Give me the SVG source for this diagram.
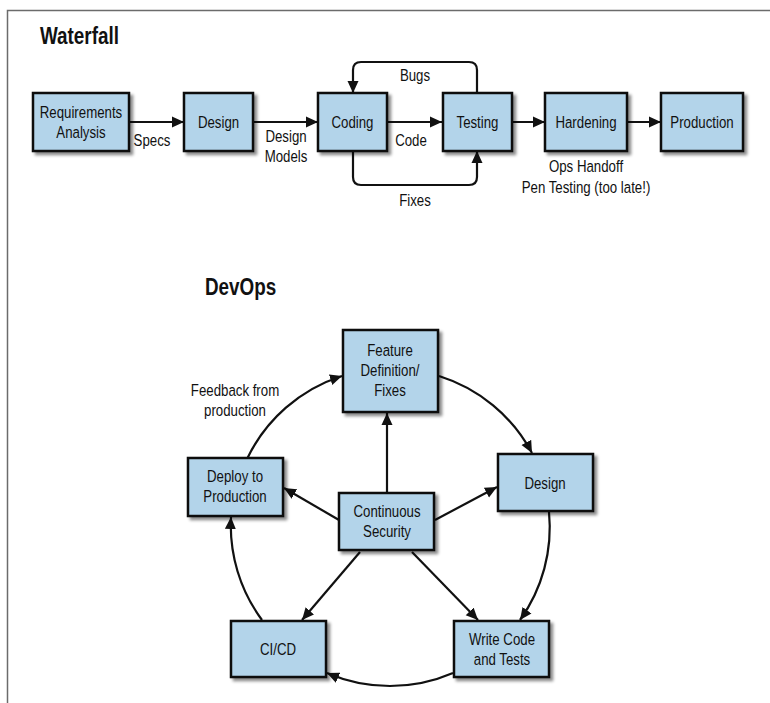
<svg xmlns="http://www.w3.org/2000/svg" width="770" height="703" viewBox="0 0 770 703">
<style>
.box{fill:#b3d4ea;stroke:#111;stroke-width:2.5;filter:url(#sh)}
.t{font-family:"Liberation Sans",Arial,sans-serif;font-size:17px;fill:#111;text-anchor:middle}
.h{font-family:"Liberation Sans",Arial,sans-serif;font-size:23px;font-weight:bold;fill:#111}
.c{fill:none;stroke:#111;stroke-width:2.2;marker-end:url(#ah)}
</style>
<defs>
<filter id="sh" x="-20%" y="-20%" width="150%" height="150%">
<feDropShadow dx="3" dy="3" stdDeviation="1.8" flood-color="#000" flood-opacity="0.45"/>
</filter>
<marker id="ah" markerUnits="userSpaceOnUse" markerWidth="13" markerHeight="12" refX="12" refY="6" orient="auto">
<path d="M0,0.5 L12,6 L0,11.5 z" fill="#111"/>
</marker>
</defs>
<rect width="770" height="703" fill="#fff"/>
<path d="M7.5 703 V10.5 H770" fill="none" stroke="#6b6b6b" stroke-width="1.5"/>
<text class="h" transform="translate(40 44) scale(0.82 1)">Waterfall</text>
<text class="h" transform="translate(205 295) scale(0.82 1)">DevOps</text>

<g id="connectors">
<path class="c" d="M129 122 H184"/>
<path class="c" d="M253 122 H318"/>
<path class="c" d="M387 122 H442"/>
<path class="c" d="M512 122 H545"/>
<path class="c" d="M627 122 H661"/>
<path class="c" d="M477 93 V70 Q477 62 469 62 H361 Q353 62 353 70 V93"/>
<path class="c" d="M353 151 V177 Q353 185 361 185 H469 Q477 185 477 177 V151"/>

<path class="c" d="M247 459 A159 159 0 0 1 342 376"/>
<path class="c" d="M439 376 A159 159 0 0 1 532 453"/>
<path class="c" d="M549 512 A159 159 0 0 1 520 620"/>
<path class="c" d="M453 673 A159 159 0 0 1 327 673"/>
<path class="c" d="M262 620 A159 159 0 0 1 231 517"/>

<path class="c" d="M387 493 V413"/>
<path class="c" d="M339 520 L284 488"/>
<path class="c" d="M435 520 L497 487"/>
<path class="c" d="M360 552 L302 620"/>
<path class="c" d="M412 552 L478 620"/>

<text class="t" transform="translate(152 146) scale(0.78 1)">Specs</text>
<text class="t" transform="translate(286 142) scale(0.78 1)">Design</text>
<text class="t" transform="translate(286 162) scale(0.78 1)">Models</text>
<text class="t" transform="translate(411 146) scale(0.78 1)">Code</text>
<text class="t" transform="translate(415 81) scale(0.78 1)">Bugs</text>
<text class="t" transform="translate(415 206) scale(0.78 1)">Fixes</text>
<text class="t" transform="translate(586 172) scale(0.78 1)">Ops Handoff</text>
<text class="t" transform="translate(586 193) scale(0.78 1)">Pen Testing (too late!)</text>
<text class="t" transform="translate(235 396) scale(0.78 1)">Feedback from</text>
<text class="t" transform="translate(235 416) scale(0.78 1)">production</text>
</g>

<g id="req"><rect class="box" x="33" y="93" width="96" height="58"/><text class="t" transform="translate(81 118) scale(0.78 1)">Requirements</text><text class="t" transform="translate(81 138) scale(0.78 1)">Analysis</text></g>
<g id="wdesign"><rect class="box" x="184" y="93" width="69" height="58"/><text class="t" transform="translate(218.5 128) scale(0.78 1)">Design</text></g>
<g id="coding"><rect class="box" x="318" y="93" width="69" height="58"/><text class="t" transform="translate(352.5 128) scale(0.78 1)">Coding</text></g>
<g id="testing"><rect class="box" x="443" y="93" width="69" height="58"/><text class="t" transform="translate(477.5 128) scale(0.78 1)">Testing</text></g>
<g id="hardening"><rect class="box" x="545" y="93" width="82" height="58"/><text class="t" transform="translate(586 128) scale(0.78 1)">Hardening</text></g>
<g id="production"><rect class="box" x="661" y="93" width="82" height="58"/><text class="t" transform="translate(702 128) scale(0.78 1)">Production</text></g>

<g id="feature"><rect class="box" x="343" y="330" width="95" height="82"/><text class="t" transform="translate(390 356) scale(0.78 1)">Feature</text><text class="t" transform="translate(390 376) scale(0.78 1)">Definition/</text><text class="t" transform="translate(390 396) scale(0.78 1)">Fixes</text></g>
<g id="deploy"><rect class="box" x="188" y="458" width="95" height="58"/><text class="t" transform="translate(235 482) scale(0.78 1)">Deploy to</text><text class="t" transform="translate(235 502) scale(0.78 1)">Production</text></g>
<g id="security"><rect class="box" x="339" y="493" width="95" height="57"/><text class="t" transform="translate(387 517) scale(0.78 1)">Continuous</text><text class="t" transform="translate(387 537) scale(0.78 1)">Security</text></g>
<g id="ddesign"><rect class="box" x="498" y="454" width="95" height="57"/><text class="t" transform="translate(545 489) scale(0.78 1)">Design</text></g>
<g id="cicd"><rect class="box" x="231" y="621" width="95" height="56"/><text class="t" transform="translate(278 655) scale(0.78 1)">CI/CD</text></g>
<g id="write"><rect class="box" x="454" y="621" width="95" height="56"/><text class="t" transform="translate(502 645) scale(0.78 1)">Write Code</text><text class="t" transform="translate(502 665) scale(0.78 1)">and Tests</text></g>
</svg>
